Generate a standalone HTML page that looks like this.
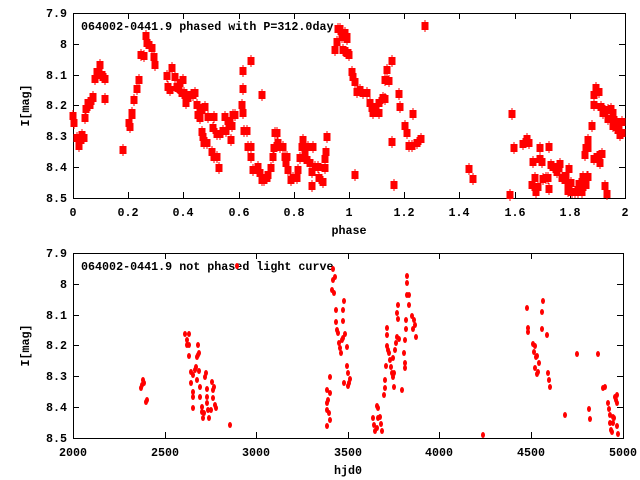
<!DOCTYPE html>
<html><head><meta charset="utf-8"><style>
html,body{margin:0;padding:0;background:#fff;}
svg{display:block;}
text{font-family:"Liberation Mono",monospace;font-size:11.7px;font-weight:bold;fill:#000;}
</style></head><body>
<svg id="s" width="640" height="480" xmlns="http://www.w3.org/2000/svg"></svg>
<script>
var s=document.getElementById('s'),h='';
function frame(x0,y0,x1,y1,xt,yt,xl,yl){
 h+='<rect x="'+x0+'.5" y="'+y0+'.5" width="'+(x1-x0)+'" height="'+(y1-y0)+'" fill="none" stroke="#000"/>';
 xt.forEach(function(t){h+='<line x1="'+t[0]+'.5" x2="'+t[0]+'.5" y1="'+y1+'" y2="'+(y1-6)+'" stroke="#000"/><line x1="'+t[0]+'.5" x2="'+t[0]+'.5" y1="'+y0+'" y2="'+(y0+6)+'" stroke="#000"/>';
  h+='<text x="'+t[0]+'" y="'+(y1+18)+'" text-anchor="middle">'+t[1]+'</text>';});
 yt.forEach(function(t){h+='<line x1="'+x0+'" x2="'+(x0+6)+'" y1="'+t[0]+'.5" y2="'+t[0]+'.5" stroke="#000"/><line x1="'+x1+'" x2="'+(x1-6)+'" y1="'+t[0]+'.5" y2="'+t[0]+'.5" stroke="#000"/>';
  h+='<text x="'+(x0-6)+'" y="'+(t[0]+4)+'" text-anchor="end">'+t[1]+'</text>';});
 h+='<text x="'+((x0+x1)/2)+'" y="'+(y1+36)+'" text-anchor="middle">'+xl+'</text>';
 h+='<text transform="translate(29,'+((y0+y1)/2)+') rotate(-90)" text-anchor="middle">'+yl+'</text>';
}
var ylab=['7.9','8','8.1','8.2','8.3','8.4','8.5'];
var xt1=[],yt1=[],xt2=[],yt2=[];
for(var i=0;i<=10;i++)xt1.push([Math.round(73+i*55.2),(i==0?'0':i%5==0?(i/5)+'':(i*0.2).toFixed(1))]);
for(var i=0;i<7;i++){yt1.push([Math.round(13+i*30.8),ylab[i]]);yt2.push([Math.round(253+i*30.8),ylab[i]]);}
for(var i=0;i<=6;i++)xt2.push([Math.round(73+i*91.6),(2000+i*500)+'']);
frame(73,13,625,198,xt1,yt1,'phase','I[mag]');
frame(73,253,623,438,xt2,yt2,'hjd0','I[mag]');
h+='<text x="81" y="30">064002-0441.9 phased with P=312.0day</text>';
h+='<text x="81" y="270">064002-0441.9 not phased light curve</text>';
var tp=[73,116,74,123,77,138,80,138,79,146,82,135,84,138,80,140,85,118,86,109,88,103,90,105,91,101,93,98,93,97,95,79,97,72,98,72,100,65,102,75,103,77,105,79,105,99,123,150,129,123,130,127,132,113,132,115,134,100,137,89,139,80,141,55,144,56,146,36,147,43,149,45,152,48,154,57,155,65,167,76,168,87,170,90,172,68,175,77,177,87,178,88,180,83,182,93,183,80,184,93,186,95,186,103,188,98,191,95,193,95,195,93,197,105,198,115,200,118,201,110,202,132,203,137,204,143,205,107,207,143,208,117,212,152,213,128,214,117,214,157,217,157,217,134,219,168,220,134,223,131,225,117,226,131,228,121,230,123,231,140,232,126,233,115,235,115,242,105,243,89,243,113,243,71,244,131,247,131,248,147,251,147,251,61,251,157,253,170,257,170,258,167,260,173,262,180,264,180,267,178,268,175,271,168,262,95,273,157,274,148,275,133,277,133,278,143,280,147,283,147,285,157,286,163,287,157,288,170,291,180,293,178,297,178,298,170,300,158,302,147,303,140,305,152,307,160,308,147,310,163,312,172,313,147,312,186,315,167,318,167,319,178,323,182,325,168,325,159,326,152,327,137,335,50,337,42,338,29,342,37,343,50,345,33,347,37,347,53,349,55,
340,29,342,37,345,35,347,39,343,50,348,53,352,72,353,77,355,82,357,92,360,90,363,93,367,93,370,103,372,108,373,113,376,107,379,103,379,113,383,98,385,99,385,80,387,70,389,81,392,61,392,142,394,185,399,94,400,107,405,126,407,133,409,146,412,146,413,114,417,143,421,139,425,26,355,175,469,169,473,179,510,195,512,114,514,148,523,144,527,139,529,143,532,185,533,162,535,178,536,192,538,187,540,148,540,159,542,162,543,179,546,178,548,178,549,147,549,189,551,165,553,167,557,172,559,168,560,164,562,178,565,180,566,176,568,183,569,169,568,191,571,183,572,192,575,192,578,192,579,184,582,192,583,177,586,185,587,177,588,177,585,155,586,148,588,148,588,140,592,126,594,159,594,105,594,95,596,88,597,157,599,92,598,157,600,163,601,107,602,154,603,113,605,111,605,186,607,194,608,110,608,119,611,109,613,113,613,126,614,120,616,127,617,122,618,130,620,135,622,122,622,133];
for(var i=0;i<tp.length;i+=2){var x=tp[i],y=tp[i+1];
 h+='<rect x="'+(x-3.5)+'" y="'+(y-4)+'" width="7" height="8" fill="#f00"/><line x1="'+x+'" x2="'+x+'" y1="'+(y-6)+'" y2="'+(y+6)+'" stroke="#f00"/>';}
var bt=[141,388,142,385,143,380,144,383,146,402,147,400,185,334,187,340,189,334,187,345,189,345,189,356,191,372,191,383,193,375,193,392,193,397,193,408,195,370,196,367,197,357,197,380,198,355,199,353,198,345,199,371,200,387,200,397,202,407,202,412,203,418,204,413,205,377,206,373,207,389,207,397,207,403,208,410,209,418,211,410,212,382,213,390,213,398,214,387,215,405,216,408,230,425,237,266,
327,390,327,403,327,410,327,426,328,400,329,413,330,420,330,393,330,377,333,269,333,280,332,290,334,293,335,277,336,310,336,322,337,330,338,333,339,343,340,348,341,353,342,340,343,338,343,321,344,301,343,310,344,383,345,334,347,347,347,366,348,373,348,386,349,383,350,379,
373,418,374,425,375,431,377,428,377,406,378,408,378,418,380,417,381,424,382,431,384,395,385,388,385,380,386,366,387,346,387,335,387,328,388,350,389,353,390,360,391,367,392,373,393,377,393,358,394,387,394,373,395,350,396,343,397,337,397,313,398,319,399,339,398,305,402,390,404,353,405,363,405,368,405,340,406,329,406,320,407,295,407,283,407,276,409,295,409,305,412,316,413,329,414,320,415,325,416,337,
527,308,528,328,528,332,533,344,534,352,535,346,536,357,537,356,535,368,537,374,538,372,539,363,542,329,542,312,543,301,547,335,548,373,549,380,550,387,565,415,577,354,589,409,590,419,598,354,603,388,605,387,608,403,609,409,610,415,610,423,611,430,612,432,613,423,613,417,614,418,615,397,616,400,617,395,617,403,617,426,618,434,483,435];
for(var i=0;i<bt.length;i+=2){h+='<ellipse cx="'+bt[i]+'" cy="'+bt[i+1]+'" rx="2" ry="3" fill="#f00"/>';}
s.innerHTML=h;
</script>
</body></html>
